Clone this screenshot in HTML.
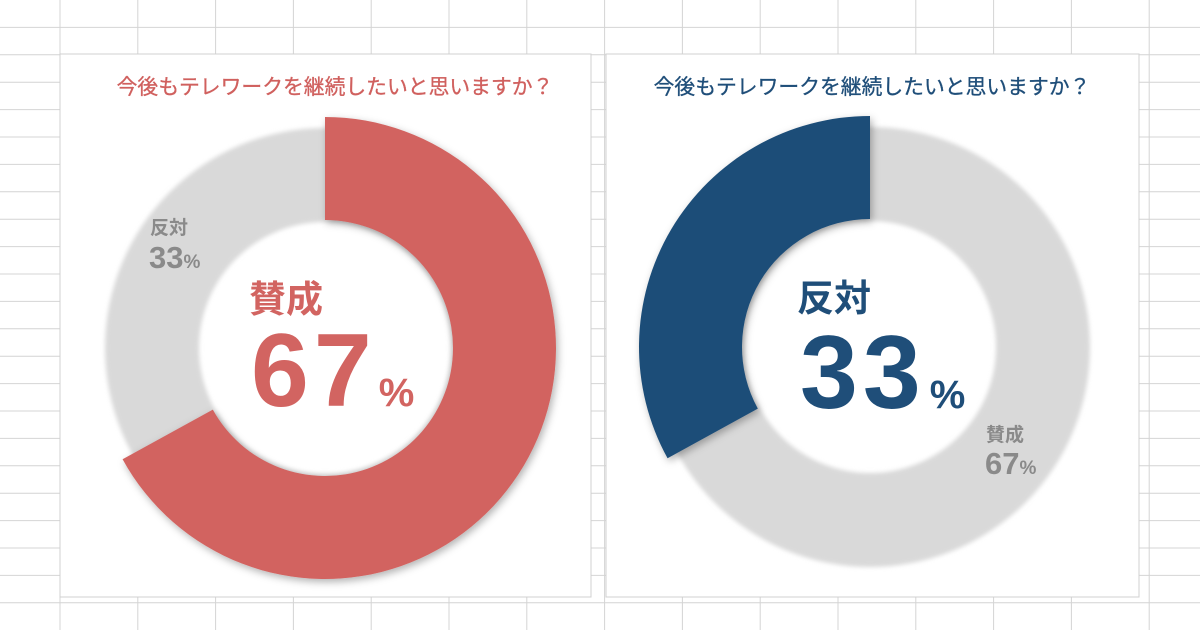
<!DOCTYPE html>
<html><head><meta charset="utf-8">
<style>
body{margin:0;width:1200px;height:630px;overflow:hidden;background:#fff;font-family:"Liberation Sans","Noto Sans CJK JP",sans-serif;}
svg{display:block}
</style></head>
<body>
<svg width="1200" height="630" viewBox="0 0 1200 630">
<defs>
<filter id="blur" x="-20%" y="-20%" width="140%" height="140%"><feGaussianBlur stdDeviation="2"/></filter>
<filter id="sh" x="-20%" y="-20%" width="140%" height="140%"><feDropShadow dx="2" dy="3" stdDeviation="4" flood-color="#000" flood-opacity="0.3"/></filter>
</defs>
<g id="grid"></g>
<rect x="60" y="54" width="531" height="543" fill="#fff" stroke="#d0d0d0"/>
<rect x="606" y="54" width="533" height="543" fill="#fff" stroke="#d0d0d0"/>
<g id="left"></g>
<g id="right"></g>
<text x="335" y="94" text-anchor="middle" font-size="20.8" fill="#d0605e" stroke="#d0605e" stroke-width="0.3">今後もテレワークを継続したいと思いますか？</text>
<text x="872" y="94" text-anchor="middle" font-size="20.8" fill="#1f4e79" stroke="#1f4e79" stroke-width="0.3">今後もテレワークを継続したいと思いますか？</text>
<text x="150" y="234" font-size="19" font-weight="bold" fill="#8a8a8a">反対</text>
<text x="149" y="268" font-size="31" font-weight="bold" fill="#8a8a8a">33<tspan font-size="19">%</tspan></text>
<text x="249" y="312" font-size="37" font-weight="bold" fill="#d26461">賛成</text>
<text x="251" y="406" font-size="104" font-weight="bold" letter-spacing="5" fill="#d26461">67<tspan font-size="40" letter-spacing="0" dx="2">%</tspan></text>
<text x="797" y="311" font-size="37" font-weight="bold" fill="#1f4e79">反対</text>
<text x="800" y="408" font-size="104" font-weight="bold" letter-spacing="5" fill="#1f4e79">33<tspan font-size="40" letter-spacing="0" dx="4">%</tspan></text>
<text x="986" y="441" font-size="19" font-weight="bold" fill="#8a8a8a">賛成</text>
<text x="985" y="474" font-size="31" font-weight="bold" fill="#8a8a8a">67<tspan font-size="19">%</tspan></text>
</svg>
<script>
const categories=["賛成","反対"];
const seriesValues=[67,33];
const NS="http://www.w3.org/2000/svg";
const grid=document.getElementById('grid');
for(let y=27.4;y<630;y+=27.4){const l=document.createElementNS(NS,'line');l.setAttribute('x1',0);l.setAttribute('x2',1200);l.setAttribute('y1',y);l.setAttribute('y2',y);l.setAttribute('stroke','#d4d4d4');

grid.appendChild(l);}
for(let x=60;x<1200;x+=77.8){const l=document.createElementNS(NS,'line');l.setAttribute('x1',x);l.setAttribute('x2',x);l.setAttribute('y1',0);l.setAttribute('y2',630);l.setAttribute('stroke','#d4d4d4');

grid.appendChild(l);}
function arc(cx,cy,r0,r1,a0,a1){const p=(r,a)=>[cx+r*Math.sin(a),cy-r*Math.cos(a)];const large=(a1-a0)>Math.PI?1:0;
if(a1-a0>=2*Math.PI-1e-6){return `M${cx-r1},${cy}a${r1},${r1} 0 1,0 ${2*r1},0a${r1},${r1} 0 1,0 ${-2*r1},0ZM${cx-r0},${cy}a${r0},${r0} 0 1,1 ${2*r0},0a${r0},${r0} 0 1,1 ${-2*r0},0Z`;}
const A=p(r1,a0),B=p(r1,a1),C=p(r0,a1),D=p(r0,a0);
return `M${A}A${r1},${r1} 0 ${large},1 ${B}L${C}A${r0},${r0} 0 ${large},0 ${D}Z`;}
function donut(g,cx,cy,hiIdx,color,name){
const total=seriesValues.reduce((a,b)=>a+b,0);
const hiFrac=seriesValues[hiIdx]/total;
const bg=document.createElementNS(NS,'path');bg.setAttribute('d',arc(cx,cy,126,220,0,2*Math.PI));bg.setAttribute('fill','#d9d9d9');bg.setAttribute('fill-rule','evenodd');bg.setAttribute('filter','url(#blur)');

g.appendChild(bg);
let a0,a1;
if(hiIdx===0){a0=0;a1=hiFrac*2*Math.PI;}else{a0=-hiFrac*2*Math.PI;a1=0;}
const s=document.createElementNS(NS,'path');s.setAttribute('d',arc(cx,cy,128,231,a0,a1));s.setAttribute('fill',color);s.setAttribute('filter','url(#sh)');

g.appendChild(s);}
donut(document.getElementById('left'),325,348,0,'#d26461','left-donut');
donut(document.getElementById('right'),870,347,1,'#1f4e78','right-donut');
</script>
</body></html>
